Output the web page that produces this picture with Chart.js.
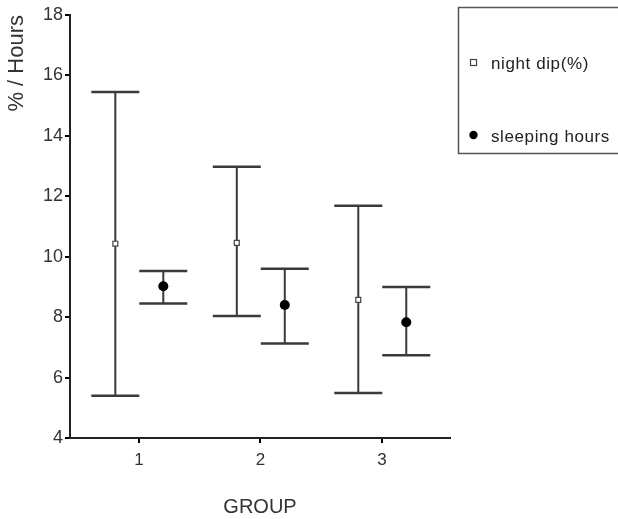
<!DOCTYPE html>
<html>
<head>
<meta charset="utf-8">
<script src="https://cdn.jsdelivr.net/npm/chart.js@4"></script>
<style>
  html, body { margin: 0; padding: 0; background: #fff; }
  #wrap { width: 618px; height: 519px; }
</style>
</head>
<body>
<div id="wrap"><canvas id="chart"></canvas></div>
<script>
// group positions and the small offset of each series around the tick
const groups = [1, 2, 3];
const offsets = [-0.195, 0.2];

// night dip (%) : mean with upper / lower limits
const dipMean = [10.43, 10.46, 8.57];
const dipHigh = [15.45, 12.98, 11.69];
const dipLow = [5.40, 8.04, 5.49];

// sleeping hours
const sleepMean = [9.02, 8.40, 7.83];
const sleepHigh = [9.53, 9.60, 9.00];
const sleepLow = [8.45, 7.13, 6.74];

const seriesLabels = ['night dip(%)', 'sleeping hours'];
const yTicks = [4, 6, 8, 10, 12, 14, 16, 18];

const FONT = "'Liberation Sans', Arial, sans-serif";

function pts(means, k) {
  return groups.map((g, i) => ({ x: g + offsets[k], y: means[i], lo: [dipLow, sleepLow][k][i], hi: [dipHigh, sleepHigh][k][i] }));
}

// draws the whiskers + caps for each point from its lo / hi values
const errorBars = {
  id: 'errorBars',
  beforeDatasetsDraw(chart) {
    const { ctx, scales: { x, y } } = chart;
    const capHalf = 24;
    ctx.save();
    ctx.strokeStyle = '#3a3a3a';
    chart.data.datasets.forEach(ds => {
      ds.data.forEach(p => {
        const px = x.getPixelForValue(p.x);
        const yHi = y.getPixelForValue(p.hi);
        const yLo = y.getPixelForValue(p.lo);
        ctx.lineWidth = 2;
        ctx.beginPath();
        ctx.moveTo(px, yHi);
        ctx.lineTo(px, yLo);
        ctx.stroke();
        ctx.lineWidth = 2.5;
        ctx.beginPath();
        ctx.moveTo(px - capHalf, yHi);
        ctx.lineTo(px + capHalf, yHi);
        ctx.moveTo(px - capHalf, yLo);
        ctx.lineTo(px + capHalf, yLo);
        ctx.stroke();
      });
    });
    ctx.restore();
  }
};

// boxed legend in the top right corner, partly cut off like the original
const boxLegend = {
  id: 'boxLegend',
  afterDraw(chart) {
    const ctx = chart.ctx;
    ctx.save();
    ctx.strokeStyle = '#555';
    ctx.lineWidth = 1.5;
    ctx.strokeRect(458.5, 7.5, 170, 146);
    ctx.font = '17px ' + FONT;
    ctx.fillStyle = '#222';
    ctx.textBaseline = 'middle';
    if ('letterSpacing' in ctx) ctx.letterSpacing = '0.6px';
    ctx.fillText(seriesLabels[0], 491, 64);
    ctx.fillText(seriesLabels[1], 491, 137);
    // markers
    ctx.fillStyle = '#fff';
    ctx.strokeStyle = '#444';
    ctx.lineWidth = 1.2;
    ctx.fillRect(470.5, 59.5, 6, 6);
    ctx.strokeRect(470.5, 59.5, 6, 6);
    ctx.fillStyle = '#000';
    ctx.beginPath();
    ctx.arc(473.5, 135, 4.2, 0, Math.PI * 2);
    ctx.fill();
    ctx.restore();
  }
};

new Chart(document.getElementById('chart'), {
  type: 'scatter',
  data: {
    datasets: [
      {
        label: seriesLabels[0],
        data: pts(dipMean, 0),
        pointStyle: 'rect',
        pointRadius: 3.5,
        backgroundColor: '#fff',
        borderColor: '#444',
        borderWidth: 1.2
      },
      {
        label: seriesLabels[1],
        data: pts(sleepMean, 1),
        pointStyle: 'circle',
        pointRadius: 5,
        backgroundColor: '#000',
        borderColor: '#000',
        borderWidth: 0
      }
    ]
  },
  options: {
    responsive: true,
    maintainAspectRatio: false,
    animation: false,
    layout: { padding: { top: 15, right: 168, left: 0, bottom: 0 } },
    plugins: { legend: { display: false }, tooltip: { enabled: false } },
    scales: {
      x: {
        type: 'linear',
        min: 0.432,
        max: 3.56,
        afterBuildTicks: (s) => { s.ticks = groups.map(v => ({ value: v })); },
        afterFit: (s) => { s.height = 81; },
        border: { color: '#222', width: 2 },
        grid: { drawOnChartArea: false, tickLength: 5, color: '#000', lineWidth: 2 },
        ticks: { color: '#333', font: { family: FONT, size: 17 }, padding: 7 },
        title: { display: true, text: 'GROUP', color: '#333', font: { family: FONT, size: 20 }, padding: { top: 28, bottom: 0 } }
      },
      y: {
        min: 4,
        max: 18,
        afterBuildTicks: (s) => { s.ticks = yTicks.map(v => ({ value: v })); },
        afterFit: (s) => { s.width = 70; },
        border: { color: '#222', width: 2 },
        grid: { drawOnChartArea: false, tickLength: 5, color: '#000', lineWidth: 2 },
        ticks: { color: '#333', font: { family: FONT, size: 18 }, padding: 2 },
        title: { display: true, text: '% / Hours', align: 'end', color: '#333', font: { family: FONT, size: 22 }, padding: { bottom: 6 } }
      }
    }
  },
  plugins: [errorBars, boxLegend]
});
</script>
</body>
</html>
